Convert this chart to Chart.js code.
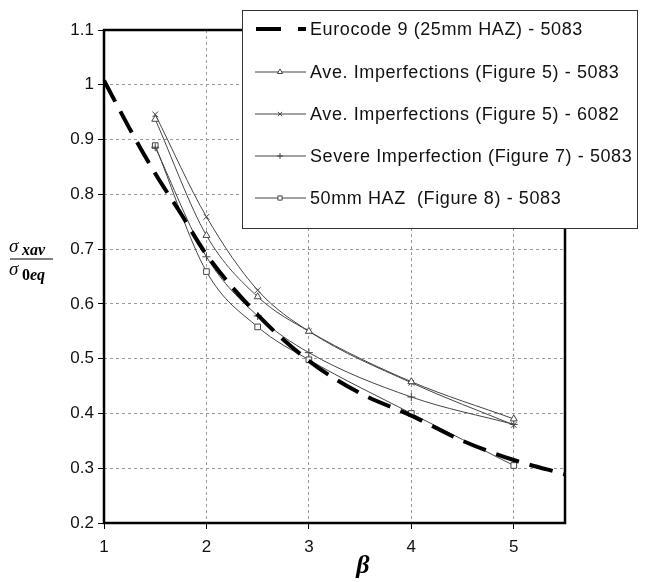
<!DOCTYPE html>
<html>
<head>
<meta charset="utf-8">
<script src="https://cdn.jsdelivr.net/npm/chart.js@4"></script>
<style>
  html, body { margin: 0; padding: 0; background: #fff; }
  #wrap { width: 647px; height: 582px; }
</style>
</head>
<body>
<div id="wrap"><canvas id="chart1" width="647" height="582"></canvas></div>
<script>
// beta values
var betaEc = [1, 1.25, 1.5, 1.75, 2, 2.5, 3, 3.5, 4, 4.5, 5, 5.5];
var eurocode = [1.008, 0.92, 0.838, 0.765, 0.69, 0.58, 0.496, 0.437, 0.396, 0.35, 0.315, 0.289];

var betaFe = [1.5, 2, 2.5, 3, 4, 5];
var ave5083 = [0.937, 0.725, 0.613, 0.55, 0.458, 0.39];
var ave6082 = [0.946, 0.759, 0.625, 0.55, 0.456, 0.379];
var severe5083 = [0.886, 0.686, 0.578, 0.511, 0.43, 0.38];
var haz50 = [0.889, 0.659, 0.558, 0.498, 0.40, 0.305];

var labels = [
  "Eurocode 9 (25mm HAZ) - 5083",
  "Ave. Imperfections (Figure 5) - 5083",
  "Ave. Imperfections (Figure 5) - 6082",
  "Severe Imperfection (Figure 7) - 5083",
  "50mm HAZ  (Figure 8) - 5083"
];

function pts(xs, ys) {
  return xs.map(function (x, i) { return { x: x, y: ys[i] }; });
}

function feSet(label, ys, style) {
  return {
    label: label,
    data: pts(betaFe, ys),
    borderColor: "#444",
    borderWidth: 1,
    pointStyle: style,
    pointRadius: 4,
    pointBorderColor: "#444",
    pointBackgroundColor: "#fff",
    pointBorderWidth: 1,
    tension: 0.4,
    cubicInterpolationMode: "monotone"
  };
}

var datasets = [
  {
    label: labels[0],
    data: pts(betaEc, eurocode),
    borderColor: "#000",
    borderWidth: 4,
    borderDash: [24, 11],
    pointRadius: 0,
    tension: 0.4,
    cubicInterpolationMode: "monotone"
  },
  feSet(labels[1], ave5083, "triangle"),
  feSet(labels[2], ave6082, "crossRot"),
  feSet(labels[3], severe5083, "cross"),
  feSet(labels[4], haz50, "rect")
];

var frame = {
  id: "frame",
  beforeDatasetsDraw: function (chart) {
    var a = chart.chartArea, ctx = chart.ctx;
    ctx.save();
    ctx.strokeStyle = "#000";
    ctx.lineWidth = 2.5;
    ctx.strokeRect(a.left, a.top, a.right - a.left, a.bottom - a.top);
    ctx.restore();
  },
  afterDraw: function (chart) {
    var ctx = chart.ctx;
    ctx.save();
    // legend box
    var bx = 242, by = 10, bw = 395, bh = 218;
    ctx.fillStyle = "#fff";
    ctx.fillRect(bx, by, bw, bh);
    ctx.strokeStyle = "#333";
    ctx.lineWidth = 1;
    ctx.strokeRect(bx + 0.5, by + 0.5, bw, bh);
    var rows = [29, 72, 114, 156, 198];
    ctx.font = "18px 'Liberation Sans', Arial, sans-serif";
    ctx.letterSpacing = "0.6px";
    ctx.textBaseline = "middle";
    chart.data.datasets.forEach(function (ds, i) {
      var y = rows[i];
      ctx.save();
      ctx.strokeStyle = ds.borderColor;
      ctx.lineWidth = ds.borderWidth;
      ctx.beginPath();
      if (i === 0) {
        ctx.moveTo(256, y); ctx.lineTo(281, y);
        ctx.moveTo(298, y); ctx.lineTo(306, y);
      } else {
        ctx.moveTo(255, y); ctx.lineTo(306, y);
      }
      ctx.stroke();
      if (ds.pointStyle) {
        ctx.fillStyle = "#fff";
        ctx.strokeStyle = ds.pointBorderColor;
        ctx.lineWidth = 1;
        Chart.helpers.drawPoint(ctx, { pointStyle: ds.pointStyle, radius: 3, rotation: 0, borderWidth: 1 }, 280, y);
      }
      ctx.restore();
      ctx.fillStyle = "#111";
      ctx.textAlign = "left";
      ctx.fillText(ds.label, 310, y + 1);
    });
    ctx.letterSpacing = "0px";

    // axis titles
    ctx.fillStyle = "#000";
    ctx.textAlign = "center";
    ctx.font = "italic bold 26px 'Liberation Serif', 'Times New Roman', serif";
    ctx.fillText("\u03b2", 363, 566);

    // y title as a fraction
    ctx.textAlign = "left";
    ctx.textBaseline = "alphabetic";
    ctx.font = "italic 19px 'Liberation Serif', serif";
    ctx.fillText("\u03c3", 9, 252);
    ctx.font = "italic bold 16px 'Liberation Serif', serif";
    ctx.fillText("xav", 22, 255);
    ctx.beginPath();
    ctx.strokeStyle = "#000";
    ctx.lineWidth = 1.2;
    ctx.moveTo(10, 259); ctx.lineTo(53, 259);
    ctx.stroke();
    ctx.font = "italic 19px 'Liberation Serif', serif";
    ctx.fillText("\u03c3", 9, 275);
    ctx.font = "bold 16px 'Liberation Serif', serif";
    ctx.fillText("0", 22, 280);
    ctx.font = "italic bold 16px 'Liberation Serif', serif";
    ctx.fillText("eq", 30, 280);
    ctx.restore();
  }
};

var ctx = document.getElementById("chart1").getContext("2d");
var chart = new Chart(ctx, {
  type: "line",
  data: { datasets: datasets },
  options: {
    responsive: false,
    animation: false,
    layout: { padding: { top: 30, right: 82, left: 0, bottom: 0 } },
    plugins: { legend: { display: false }, tooltip: { enabled: false } },
    scales: {
      x: {
        type: "linear",
        min: 1,
        max: 5.5,
        afterFit: function (s) { s.height = 59; },
        ticks: {
          stepSize: 1,
          includeBounds: false,
          color: "#111",
          padding: 8,
          maxRotation: 0,
          font: { family: "'Liberation Sans', Arial, sans-serif", size: 17 }
        },
        grid: {
          color: "#9a9a9a",
          tickBorderDash: [],
          tickColor: "#000",
          tickLength: 6,
          lineWidth: 1
        },
        border: { display: false, dash: [3, 3] }
      },
      y: {
        min: 0.2,
        max: 1.1,
        afterFit: function (s) { s.width = 104; },
        ticks: {
          stepSize: 0.1,
          color: "#111",
          padding: 4,
          font: { family: "'Liberation Sans', Arial, sans-serif", size: 17 },
          callback: function (v) { return String(Number(v.toFixed(1))); }
        },
        grid: {
          color: "#9a9a9a",
          tickBorderDash: [],
          tickColor: "#000",
          tickLength: 6,
          lineWidth: 1
        },
        border: { display: false, dash: [3, 3] }
      }
    }
  },
  plugins: [frame]
});
</script>
</body>
</html>
